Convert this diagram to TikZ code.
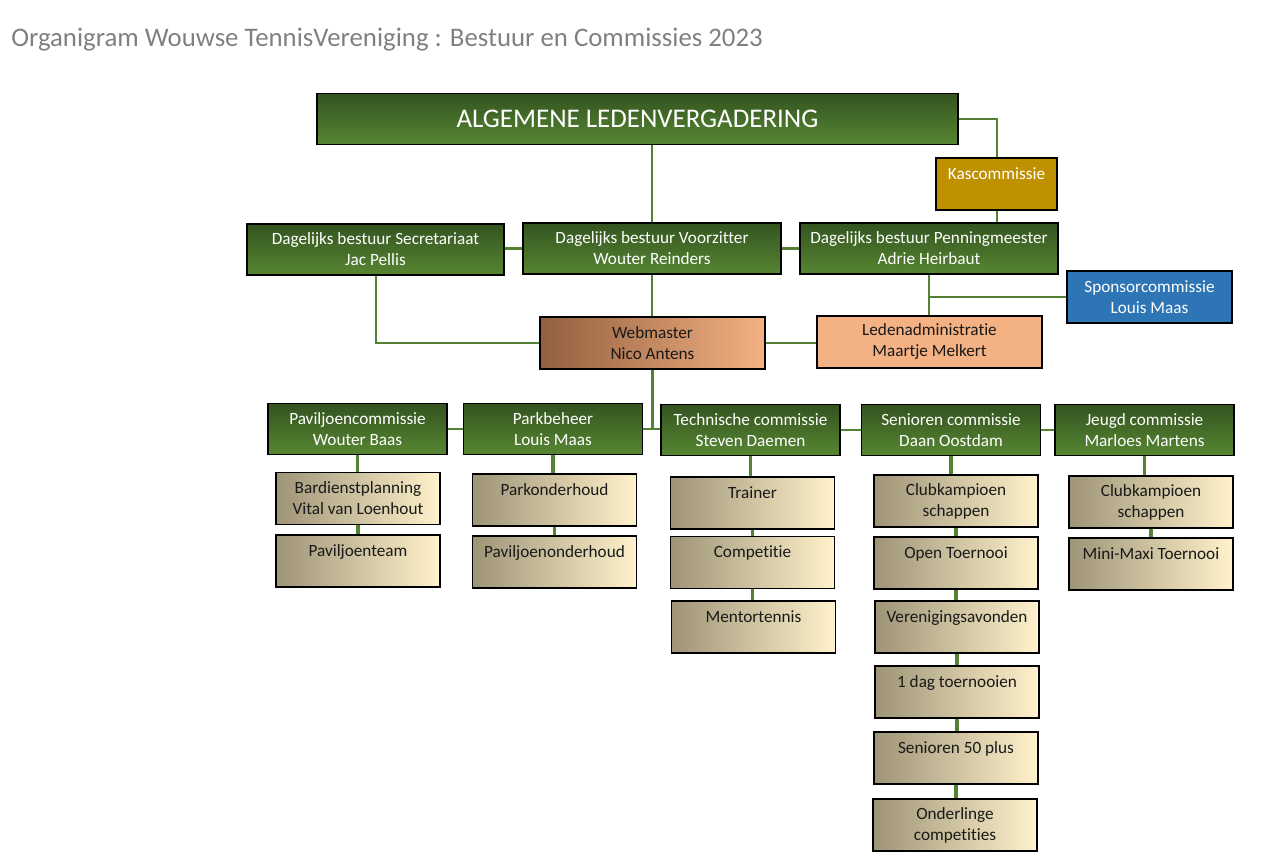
\documentclass[tikz,border=0pt]{standalone}
\usepackage{fontspec}
\setmainfont{Carlito}[Ligatures={NoCommon}]
\usepackage{tikz}

\definecolor{lijn}{RGB}{84,130,53}
\definecolor{groenboven}{RGB}{52,84,32}
\definecolor{groenonder}{RGB}{86,134,50}
\definecolor{tanlinks}{RGB}{158,148,118}
\definecolor{tanrechts}{RGB}{255,242,204}
\definecolor{zalm}{RGB}{244,177,131}
\definecolor{bruin}{RGB}{146,96,62}
\definecolor{goud}{RGB}{191,144,0}
\definecolor{blauw}{RGB}{46,117,182}
\definecolor{titelgrijs}{RGB}{128,128,128}

\begin{document}
\begin{tikzpicture}[x=0.75pt, y=-0.75pt,
  every node/.style={font=\fontsize{12.9}{15.75}\selectfont, align=center, inner sep=0pt},
  groen/.style={draw=black, line width=0.9pt, top color=groenboven, bottom color=groenonder, text=white, minimum height=51*0.75pt},
  sub/.style={draw=black, line width=0.9pt, left color=tanlinks, right color=tanrechts, text=black!90, minimum width=164*0.75pt, minimum height=52*0.75pt},
  link/.style={lijn, line width=2pt},
  dun/.style={lijn, line width=1.5pt}]
\useasboundingbox (0,0) rectangle (1273,862);
\node [anchor=west, text=titelgrijs, font=\fontsize{20.1}{24}\selectfont] (titel) at (11,40) {Organigram Wouwse TennisVereniging : Bestuur en Commissies 2023};

% bestuur
\node [groen, minimum width=641*0.75pt, font=\fontsize{20.2}{24}\selectfont] (alv) at (637.5,119) {ALGEMENE LEDENVERGADERING};
\node [draw=black, line width=0.9pt, fill=goud, text=white, minimum width=121*0.75pt, minimum height=52*0.75pt] (kas) at (996.5,184) {Kascommissie\\~};
\node [groen, minimum width=257*0.75pt] (secr) at (375.5,249.5) {Dagelijks bestuur Secretariaat\\Jac Pellis};
\node [groen, minimum width=258*0.75pt] (voorz) at (652,248.5) {Dagelijks bestuur Voorzitter\\Wouter Reinders};
\node [groen, minimum width=258*0.75pt] (penn) at (929,248.5) {Dagelijks bestuur Penningmeester\\Adrie Heirbaut};
\node [draw=black, line width=0.9pt, fill=blauw, text=white, minimum width=165*0.75pt, minimum height=52*0.75pt] (spons) at (1149.5,297) {Sponsorcommissie\\Louis Maas};
\node [draw=black, line width=0.9pt, left color=bruin, right color=zalm, text=black!90, minimum width=225*0.75pt, minimum height=52*0.75pt] (web) at (652.5,343) {Webmaster\\Nico Antens};
\node [draw=black, line width=0.9pt, fill=zalm, text=black!90, minimum width=225*0.75pt, minimum height=52*0.75pt] (leden) at (929.5,342) {Ledenadministratie\\Maartje Melkert};

\draw [dun] (alv.east) -| (kas.north);
\draw [dun] (kas.south) -- (kas.south |- penn.north);
\draw [link] (voorz.north) -- (voorz.north |- alv.south);
\draw [link] (voorz.west) -- (voorz.west -| secr.east);
\draw [link] (voorz.east) -- (penn.west);
\draw [dun] (secr.south) |- (web.west);
\draw [link] (voorz.south) -- (voorz.south |- web.north);
\draw [dun] (web.east) -- (web.east -| leden.west);
\draw [dun] (penn.south) -- (penn.south |- leden.north);
\draw [dun] (penn.south |- spons.west) -- (spons.west);

% commissies
\node [groen, minimum width=179*0.75pt] (pav) at (357.5,429) {Paviljoencommissie\\Wouter Baas};
\node [groen, minimum width=179*0.75pt] (park) at (553,429) {Parkbeheer\\Louis Maas};
\node [groen, minimum width=179*0.75pt] (tech) at (750.5,430) {Technische commissie\\Steven Daemen};
\node [groen, minimum width=179*0.75pt] (sen) at (951,430) {Senioren commissie\\Daan Oostdam};
\node [groen, minimum width=179*0.75pt] (jeugd) at (1144.5,430) {Jeugd commissie\\Marloes Martens};

\draw [link] (web.south) -- (web.south |- tech.west);
\draw [dun] (pav.east) -- (park.west);
\draw [dun] (park.east) -- (park.east -| tech.west);
\draw [dun] (tech.east) -- (sen.west);
\draw [dun] (sen.east) -- (jeugd.west);

% werkgroepen
\node [sub] (bard) at (358,498.5) {Bardienstplanning\\Vital van Loenhout};
\node [sub] (pavteam) at (358,561) {Paviljoenteam\\~};
\node [sub] (parkond) at (554.5,500) {Parkonderhoud\\~};
\node [sub] (pavond) at (554.5,562) {Paviljoenonderhoud\\~};
\node [sub] (trainer) at (752.5,503) {Trainer\\~};
\node [sub] (comp) at (752.5,562.5) {Competitie\\~};
\node [sub] (mentor) at (753.5,627) {Mentortennis\\~};
\node [sub] (clubsen) at (956,501) {Clubkampioen\\schappen};
\node [sub] (open) at (956,563) {Open Toernooi\\~};
\node [sub] (ver) at (957,627) {Verenigingsavonden\\~};
\node [sub] (dag) at (957,692) {1 dag toernooien\\~};
\node [sub] (s50) at (956,758) {Senioren 50 plus\\~};
\node [sub] (onder) at (955,825) {Onderlinge\\competities};
\node [sub] (clubjeugd) at (1151,502) {Clubkampioen\\schappen};
\node [sub] (mini) at (1151,564) {Mini-Maxi Toernooi\\~};

\foreach \a/\b in {pav/bard, bard/pavteam, park/parkond, parkond/pavond, tech/trainer, trainer/comp, comp/mentor,
  sen/clubsen, clubsen/open, open/ver, ver/dag, dag/s50, s50/onder, jeugd/clubjeugd, clubjeugd/mini}
  \draw [link, line width=2.6pt] (\a.south) -- (\a.south |- \b.north);
\end{tikzpicture}
\end{document}
